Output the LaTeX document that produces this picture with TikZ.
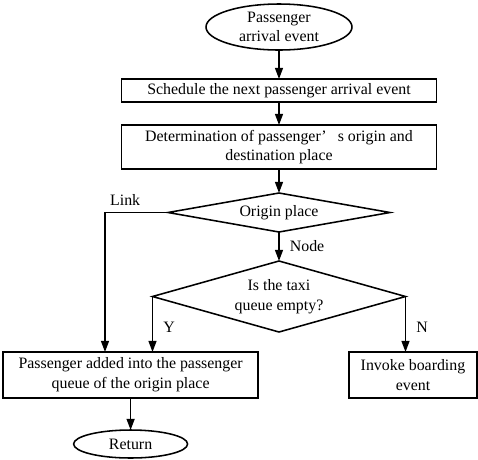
\documentclass[tikz,border=0pt]{standalone}
\usepackage{fontspec}
\setmainfont{Liberation Serif}
\usepackage{tikz}
\usetikzlibrary{shapes.geometric, arrows.meta, positioning}
\newcommand{\flowfont}{\fontsize{11.3pt}{14pt}\selectfont}
\tikzset{
  evterm/.style={ellipse, draw=black, line width=1.1pt, align=center,
    inner xsep=1pt, inner ysep=-0.5mm, outer sep=0pt, font=\flowfont},
  procbox/.style={rectangle, draw=black, line width=1.1pt, align=center,
    inner sep=1pt, outer sep=0pt, font=\flowfont},
  decide/.style={diamond, draw=black, line width=1.1pt, align=center,
    inner sep=1pt, outer sep=0pt, font=\flowfont},
  evflow/.style={-{Triangle[length=2.8mm, width=2mm]}, draw=black,
    line width=1.1pt},
  branch/.style={font=\flowfont, inner sep=1.5pt},
}

\begin{document}
\begin{tikzpicture}
\useasboundingbox (0,0) rectangle (119.5mm,-114.75mm);

\node[evterm, minimum width=36.5mm, minimum height=11.5mm] (arrive)
  at (69.75mm,-6.75mm) {Passenger\\arrival event};
\node[procbox, below=7.25mm of arrive, minimum width=78.75mm,
  minimum height=5.75mm] (sched) {Schedule the next passenger arrival event};
\node[procbox, below=5.75mm of sched, minimum width=78.75mm,
  minimum height=11mm] (determ) {Determination of passenger'\hspace{0.7em}s
  origin and\\destination place};
\node[decide, below=6mm of determ, minimum width=55.5mm,
  minimum height=9.75mm, aspect=5.7] (origin) {Origin place};
\node[decide, below=7.25mm of origin, minimum width=63.25mm,
  minimum height=17.75mm, aspect=3.56] (taxiq) {Is the taxi\\queue empty?};

\node[procbox, below=5mm of taxiq, xshift=-37.1mm, minimum width=63.75mm,
  minimum height=11.5mm] (addq) {Passenger added into the passenger\\queue
  of the origin place};
\node[procbox, below=5mm of taxiq, xshift=33.5mm, minimum width=32mm,
  minimum height=11.5mm] (board) {Invoke boarding\\event};
\node[evterm, below=8mm of addq, minimum width=28.5mm,
  minimum height=7mm] (ret) {Return};

\draw[evflow] (arrive) -- (sched);
\draw[evflow] (sched) -- (determ);
\draw[evflow] (determ) -- (origin);
\draw[evflow] (origin) -- node[branch, right, xshift=2mm] {Node} (taxiq);
\draw[evflow] (origin.west) -| ([xshift=-6.4mm]addq.north)
  node[branch, pos=0.34, above, yshift=1mm] {Link};
\draw[evflow] (taxiq.west) -- (taxiq.west |- addq.north)
  node[branch, pos=0.55, right, xshift=2mm] {Y};
\draw[evflow] (taxiq.east) -- (taxiq.east |- board.north)
  node[branch, pos=0.55, right, xshift=2mm] {N};
\draw[evflow] (addq) -- (ret);
\end{tikzpicture}
\end{document}
